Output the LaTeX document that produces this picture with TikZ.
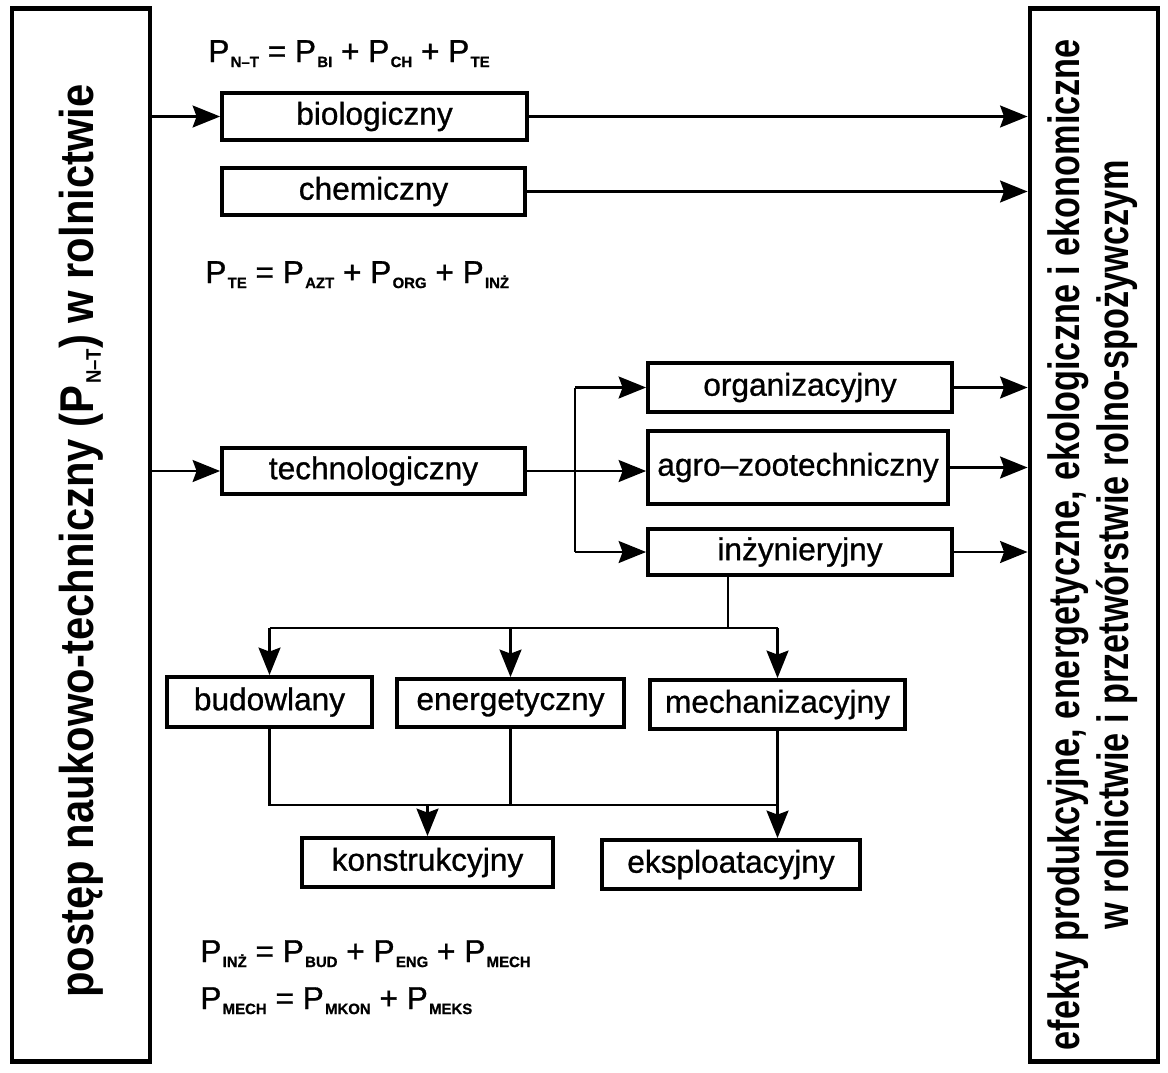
\documentclass[tikz,border=0pt]{standalone}
\usepackage{fontspec}
\setmainfont{Liberation Sans}
\newfontfamily\boxfont{Liberation Sans}[FakeBold=0.9]
\usetikzlibrary{arrows.meta, positioning, calc}

% index of a P symbol
\newcommand{\Pind}[2][8.5]{P\kern0.04em\raisebox{-0.16em}{\fontsize{#1}{#1}\selectfont\bfseries #2}}

\begin{document}
\begin{tikzpicture}[
    x=0.02cm, y=-0.02cm,
    box/.style={draw, line width=2.2pt, inner sep=0pt, font=\boxfont\fontsize{18}{20}\selectfont},
    bigbox/.style={draw, line width=2.8pt, inner sep=0pt},
    link/.style={line width=1.3pt},
    arr/.style={link, -{Stealth[length=5.5mm, width=4.4mm, inset=0.8mm]}},
    formula/.style={anchor=base west, inner sep=0pt, font=\boxfont\fontsize{18}{20}\selectfont}
]
    \useasboundingbox (0,0) rectangle (1168,1072);

    % Outer boxes
    \node[bigbox, minimum width=2.76cm, minimum height=21.08cm] (lbox) at (81,535)
        {\rotatebox{90}{\fontsize{27}{30}\selectfont\bfseries\scalebox{0.88}[1]{postęp naukowo-techniczny (\Pind[12]{N–T}) w rolnictwie\hspace*{0.28cm}}}};
    \node[bigbox, minimum width=2.56cm, minimum height=21.08cm] (rbox) at (1094,535)
        {\rotatebox{90}{\fontsize{25}{28.4}\selectfont\bfseries\scalebox{0.78}[1]{\begin{tabular}{@{}c@{}}
            efekty produkcyjne, energetyczne, ekologiczne i ekonomiczne\\
            w rolnictwie i przetwórstwie rolno-spożywczym
        \end{tabular}\hspace*{0.5cm}}}};

    % First level
    \node[box, minimum width=6.1cm, minimum height=0.94cm] (bio) at (374.5,116.5) {biologiczny};
    \node[box, minimum width=6.06cm, minimum height=0.94cm] (chem) at (373.5,191.5) {chemiczny};
    \node[box, minimum width=6.06cm, minimum height=0.92cm] (tech) at (373.5,471) {technologiczny};

    % Technological branch
    \node[box, minimum width=6.08cm, minimum height=0.98cm] (org) at (800,387.5) {organizacyjny};
    \node[box, minimum width=6.0cm, minimum height=1.46cm] (agro) at (798,467.5) {agro–zootechniczny};
    \node[box, minimum width=6.08cm, minimum height=0.92cm] (inz) at (800,552) {inżynieryjny};

    % Engineering branch
    \node[box, minimum width=4.1cm, minimum height=1.0cm] (bud) at (269.5,702) {budowlany};
    \node[box, minimum width=4.54cm, minimum height=0.96cm] (eng) at (510.5,703) {energetyczny};
    \node[box, minimum width=5.1cm, minimum height=0.98cm] (mech) at (777.5,704.5) {mechanizacyjny};
    \node[box, minimum width=5.02cm, minimum height=0.98cm] (kon) at (427.5,862.5) {konstrukcyjny};
    \node[box, minimum width=5.16cm, minimum height=0.98cm] (eks) at (731,864.5) {eksploatacyjny};

    % Formulas
    \node[formula] (f1) at (208,62) {\Pind{N–T} = \Pind{BI} + \Pind{CH} + \Pind{TE}};
    \node[formula] (f2) at (205,283) {\Pind{TE} = \Pind{AZT} + \Pind{ORG} + \Pind{INŻ}};
    \node[formula] (f3) at (200,962) {\Pind{INŻ} = \Pind{BUD} + \Pind{ENG} + \Pind{MECH}};
    \node[formula] (f4) at (200,1009) {\Pind{MECH} = \Pind{MKON} + \Pind{MEKS}};

    % Inputs and outputs
    \draw[arr] (lbox.east |- bio) -- (bio);
    \draw[arr] (lbox.east |- tech) -- (tech);
    \foreach \n in {bio, chem, org, agro, inz}
        \draw[arr] (\n.east) -- (\n.east -| rbox.west);

    % Split of the technological progress
    \coordinate (split) at (575,471);
    \draw[arr] (tech.east) -- (agro.west |- tech.east);
    \draw[link] (split |- org) -- (split |- inz);
    \draw[arr] (split |- org) -- (org);
    \draw[arr] (split |- inz) -- (inz);

    % Split of the engineering progress
    \coordinate (busA) at (728,628);
    \draw[link] (inz.south -| busA) -- (busA);
    \draw[link] (bud.north |- busA) -- (mech.north |- busA);
    \foreach \n in {bud, eng, mech}
        \draw[arr] (\n.north |- busA) -- (\n.north);

    % Merge into construction and operation
    \coordinate (busB) at (0,805);
    \draw[link] (bud.south) -- (bud.south |- busB) -- (mech.south |- busB);
    \draw[link] (eng.south) -- (eng.south |- busB);
    \draw[arr] (kon.north |- busB) -- (kon.north);
    \draw[arr] (mech.south) -- (mech.south |- eks.north);
\end{tikzpicture}
\end{document}
